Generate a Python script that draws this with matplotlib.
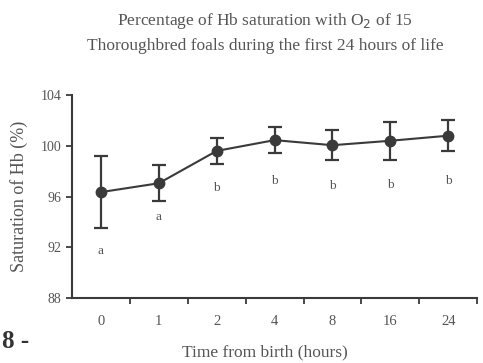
import matplotlib.pyplot as plt
import numpy as np

plt.rcParams["font.family"] = ["Liberation Serif", "DejaVu Serif"]

hours = ["0", "1", "2", "4", "8", "16", "24"]
saturation = [96.35, 97.05, 99.6, 100.45, 100.05, 100.4, 100.8]
sd = [2.85, 1.4, 1.05, 1.0, 1.2, 1.5, 1.2]
letters = ["a", "a", "b", "b", "b", "b", "b"]
letter_y = [91.7, 94.4, 96.7, 97.2, 96.85, 96.9, 97.2]

ink = "#3a3a3a"
txt = "#555555"

fig = plt.figure(figsize=(4.83, 3.63), dpi=100)
ax = fig.add_axes([0.149, 0.179, 0.839, 0.559])

x = np.arange(len(hours))
ax.errorbar(x, saturation, yerr=sd, fmt="-o", color=ink, ecolor=ink,
            markersize=7.5, linewidth=1.5, elinewidth=1.6, capsize=5, capthick=1.6)
for xi, lab, ly in zip(x, letters, letter_y):
    ax.text(xi, ly, lab, ha="center", va="center", fontsize=9.5, color=txt)

ax.set_xlim(-0.5, len(hours) - 0.5)
ax.set_ylim(88, 104)
ax.set_yticks([88, 92, 96, 100, 104])
ax.set_xticks(x)
ax.set_xticklabels(hours)
ax.set_xticks(np.arange(len(hours)) + 0.5, minor=True)
ax.tick_params(axis="x", which="major", length=0, pad=12, labelsize=10.5, labelcolor=txt)
ax.tick_params(axis="x", which="minor", length=4, width=1.3, direction="out", color=ink)
ax.tick_params(axis="y", length=4, width=1.3, direction="out", color=ink,
               labelsize=10, labelcolor=txt)
for side in ["top", "right"]:
    ax.spines[side].set_visible(False)
for side in ["left", "bottom"]:
    ax.spines[side].set_color(ink)
    ax.spines[side].set_linewidth(1.5)

ax.set_ylabel("Saturation of Hb (%)", fontsize=13, color=txt, labelpad=9)
fig.text(0.549, 0.03, "Time from birth (hours)", ha="center", va="center",
         fontsize=12.5, color=txt)
fig.text(0.005, 0.058, "8 -", ha="left", va="center", fontsize=18,
         fontweight="bold", color="#333333")
fig.text(0.549, 0.942, "Percentage of Hb saturation with O$_2$ of 15",
         ha="center", va="center", fontsize=12.5, color=txt)
fig.text(0.549, 0.873, "Thoroughbred foals during the first 24 hours of life",
         ha="center", va="center", fontsize=12.5, color=txt)

fig.savefig("out.png", dpi=100)
